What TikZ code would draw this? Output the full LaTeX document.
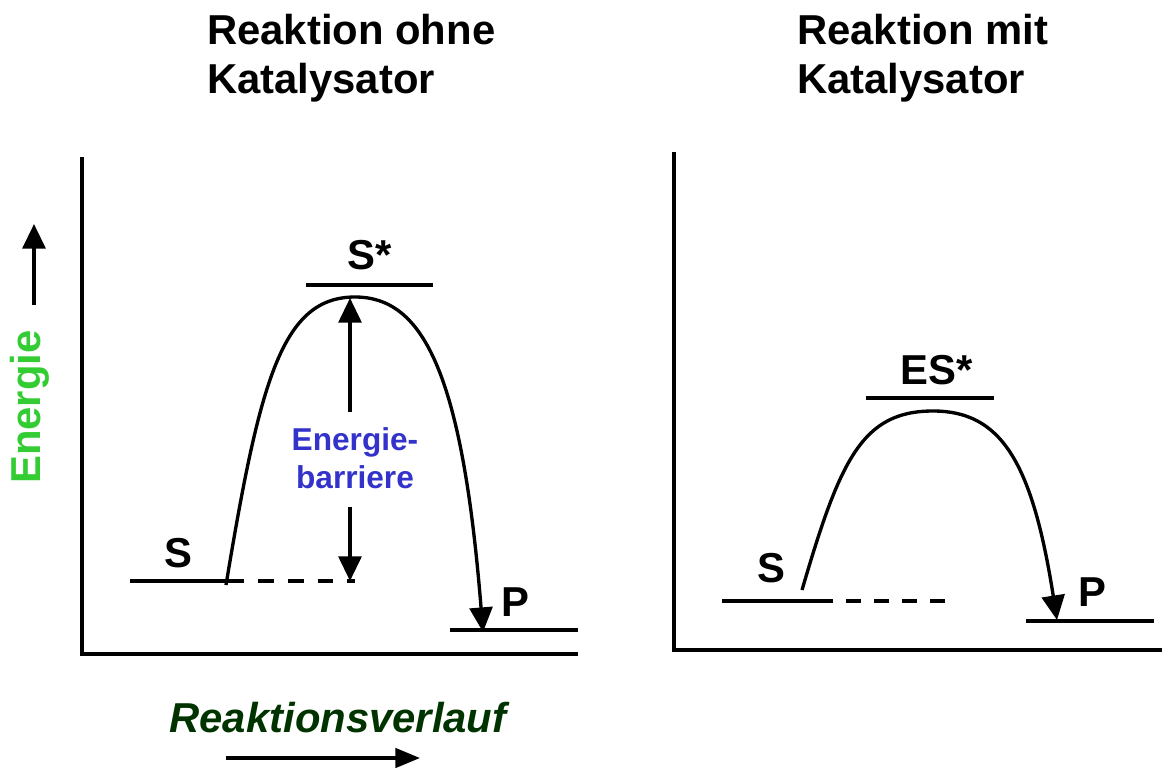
\documentclass[tikz,border=0pt]{standalone}
\usepackage{fontspec}
\setmainfont{Liberation Sans}
\usetikzlibrary{arrows.meta}
\definecolor{egreen}{RGB}{51,204,51}
\definecolor{eblue}{RGB}{51,51,204}
\definecolor{dgreen}{RGB}{0,51,0}
\tikzset{
  bigfont/.style={font=\bfseries\fontsize{23.8}{28}\selectfont},
  lvl/.style={line width=2.1pt},
  axis/.style={line width=2.2pt},
  curve/.style={line width=1.9pt},
  tip/.style={-{Triangle[length=14pt,width=13pt]}},
  dashline/.style={line width=2.1pt,dash pattern=on 9pt off 8pt},
}
\begin{document}
\begin{tikzpicture}[x=0.02cm,y=-0.02cm]
\useasboundingbox (0,0) rectangle (1162,767);
% titles
\node[bigfont,anchor=west,align=left] (t1) at (201,58) {Reaktion ohne\\Katalysator};
\node[bigfont,anchor=west,align=left] (t2) at (791,58) {Reaktion mit\\Katalysator};
% axes left
\coordinate (ly) at (82,157); \coordinate (lo) at (82,654); \coordinate (lx) at (578,654);
\draw[axis] (ly) -- (lo) -- (lx);
% axes right
\coordinate (ry) at (674,152); \coordinate (ro) at (674,650); \coordinate (rx) at (1162,650);
\draw[axis] (ry) -- (ro) -- (rx);
% Energie label and arrow
\node[bigfont,text=egreen,rotate=90] (en) at (30,407) {Energie};
\coordinate (ea0) at (34,305); \coordinate (ea1) at (34,224);
\draw[line width=2pt,tip] (ea0) -- (ea1);
% Reaktionsverlauf
\node[font=\bfseries\itshape\fontsize{23.8}{28}\selectfont,text=dgreen] (rv) at (338,718) {Reaktionsverlauf};
\coordinate (ra0) at (226,758); \coordinate (ra1) at (420,758);
\draw[line width=2pt,-{Triangle[length=14pt,width=11pt]}] (ra0) -- (ra1);
% ---- left diagram
\coordinate (s1a) at (130,581); \coordinate (s1b) at (228,581); \coordinate (s1c) at (355,581);
\draw[lvl] (s1a) -- (s1b);
\draw[dashline] (s1b) -- (s1c);
\node[bigfont] (s1) at (178,553) {S};
\coordinate (ts1a) at (306,285); \coordinate (ts1b) at (433,285);
\draw[lvl] (ts1a) -- (ts1b);
\node[bigfont] (ts1) at (370,255) {S*};
\coordinate (p1a) at (450,630); \coordinate (p1b) at (578,630);
\draw[lvl] (p1a) -- (p1b);
\node[bigfont] (p1) at (515,602) {P};
\coordinate (c1s) at (226,585); \coordinate (c1m) at (355,297); \coordinate (c1e) at (483,632);
\draw[curve,tip] (c1s) .. controls (260,380) and (282,297) .. (c1m) .. controls (422,297) and (462,370) .. (c1e);
\node[font=\bfseries\fontsize{18}{21.5}\selectfont,text=eblue,align=center] (eb) at (355,458) {Energie-\\barriere};
\coordinate (b1) at (350,412); \coordinate (b2) at (350,298);
\coordinate (b3) at (350,507); \coordinate (b4) at (350,581);
\draw[line width=1.9pt,tip] (b1) -- (b2);
\draw[line width=1.9pt,tip] (b3) -- (b4);
% ---- right diagram
\coordinate (s2a) at (722,601); \coordinate (s2b) at (818,601); \coordinate (s2c) at (945,601);
\draw[lvl] (s2a) -- (s2b);
\draw[dashline,dash pattern=on 8.5pt off 7.5pt] (s2b) -- (s2c);
\node[bigfont] (s2) at (771,568) {S};
\coordinate (ts2a) at (866,398); \coordinate (ts2b) at (994,398);
\draw[lvl] (ts2a) -- (ts2b);
\node[bigfont] (ts2) at (937,370) {ES*};
\coordinate (p2a) at (1026,621); \coordinate (p2b) at (1154,621);
\draw[lvl] (p2a) -- (p2b);
\node[bigfont] (p2) at (1092,592) {P};
\coordinate (c2s) at (802,590); \coordinate (c2m) at (933,411); \coordinate (c2e) at (1057,620);
\draw[curve,tip] (c2s) .. controls (840,460) and (862,411) .. (c2m) .. controls (1000,411) and (1032,460) .. (c2e);
\end{tikzpicture}
\end{document}
